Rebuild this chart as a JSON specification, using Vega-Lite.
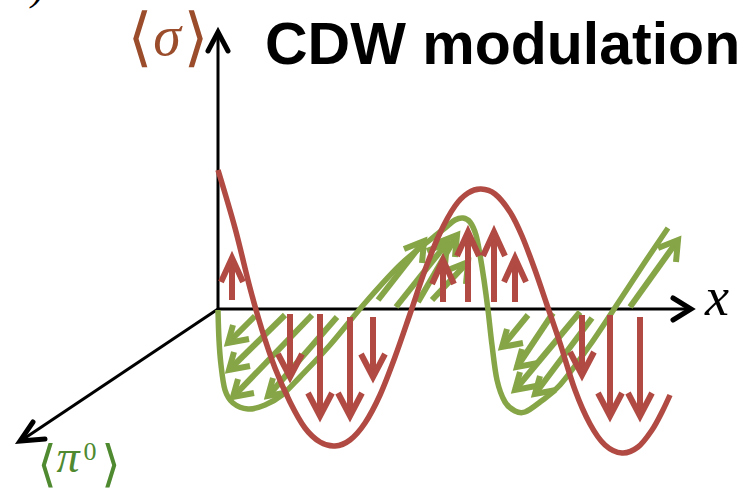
{
  "$schema": "https://vega.github.io/schema/vega-lite/v6.json",
  "width": 756,
  "height": 492,
  "autosize": {"type": "none"},
  "padding": 0,
  "background": "white",
  "config": {"view": {"stroke": null}},
  "datasets": {
    "paths": [
      {"g": "a1", "t": "axis", "o": 0, "x": 218, "y": 309},
      {"g": "a1", "t": "axis", "o": 1, "x": 218, "y": 34},
      {"g": "a2", "t": "axis", "o": 0, "x": 218, "y": 309},
      {"g": "a2", "t": "axis", "o": 1, "x": 689, "y": 309},
      {"g": "a3", "t": "axis", "o": 0, "x": 218, "y": 309},
      {"g": "a3", "t": "axis", "o": 1, "x": 22, "y": 440},
      {"g": "h1", "t": "axhead", "o": 0, "x": 208, "y": 51},
      {"g": "h1", "t": "axhead", "o": 1, "x": 218, "y": 32},
      {"g": "h1", "t": "axhead", "o": 2, "x": 228, "y": 51},
      {"g": "h2", "t": "axhead", "o": 0, "x": 673, "y": 298},
      {"g": "h2", "t": "axhead", "o": 1, "x": 691, "y": 309},
      {"g": "h2", "t": "axhead", "o": 2, "x": 673, "y": 320},
      {"g": "h3", "t": "axhead", "o": 0, "x": 33, "y": 422},
      {"g": "h3", "t": "axhead", "o": 1, "x": 20, "y": 441},
      {"g": "h3", "t": "axhead", "o": 2, "x": 45, "y": 439},

      {"g": "gc", "t": "gcurve", "o": 0, "x": 218, "y": 310},
      {"g": "gc", "t": "gcurve", "o": 1, "x": 219, "y": 340},
      {"g": "gc", "t": "gcurve", "o": 2, "x": 221, "y": 365},
      {"g": "gc", "t": "gcurve", "o": 3, "x": 225, "y": 390},
      {"g": "gc", "t": "gcurve", "o": 4, "x": 233, "y": 403},
      {"g": "gc", "t": "gcurve", "o": 5, "x": 248, "y": 409},
      {"g": "gc", "t": "gcurve", "o": 6, "x": 265, "y": 405},
      {"g": "gc", "t": "gcurve", "o": 7, "x": 282, "y": 395},
      {"g": "gc", "t": "gcurve", "o": 8, "x": 300, "y": 377},
      {"g": "gc", "t": "gcurve", "o": 9, "x": 330, "y": 345},
      {"g": "gc", "t": "gcurve", "o": 10, "x": 365, "y": 303},
      {"g": "gc", "t": "gcurve", "o": 11, "x": 400, "y": 265},
      {"g": "gc", "t": "gcurve", "o": 12, "x": 430, "y": 240},
      {"g": "gc", "t": "gcurve", "o": 13, "x": 445, "y": 228},
      {"g": "gc", "t": "gcurve", "o": 14, "x": 455, "y": 220},
      {"g": "gc", "t": "gcurve", "o": 15, "x": 463, "y": 218},
      {"g": "gc", "t": "gcurve", "o": 16, "x": 470, "y": 222},
      {"g": "gc", "t": "gcurve", "o": 17, "x": 476, "y": 235},
      {"g": "gc", "t": "gcurve", "o": 18, "x": 480, "y": 255},
      {"g": "gc", "t": "gcurve", "o": 19, "x": 484, "y": 280},
      {"g": "gc", "t": "gcurve", "o": 20, "x": 488, "y": 310},
      {"g": "gc", "t": "gcurve", "o": 21, "x": 492, "y": 345},
      {"g": "gc", "t": "gcurve", "o": 22, "x": 497, "y": 380},
      {"g": "gc", "t": "gcurve", "o": 23, "x": 505, "y": 402},
      {"g": "gc", "t": "gcurve", "o": 24, "x": 515, "y": 411},
      {"g": "gc", "t": "gcurve", "o": 25, "x": 525, "y": 412},
      {"g": "gc", "t": "gcurve", "o": 26, "x": 540, "y": 402},
      {"g": "gc", "t": "gcurve", "o": 27, "x": 560, "y": 385},
      {"g": "gc", "t": "gcurve", "o": 28, "x": 590, "y": 345},
      {"g": "gc", "t": "gcurve", "o": 29, "x": 620, "y": 300},
      {"g": "gc", "t": "gcurve", "o": 30, "x": 645, "y": 262},
      {"g": "gc", "t": "gcurve", "o": 31, "x": 668, "y": 228},

      {"g": "G1s", "t": "garrow", "o": 0, "x": 255, "y": 316},
      {"g": "G1s", "t": "garrow", "o": 1, "x": 228, "y": 343},
      {"g": "G1h", "t": "garrow", "o": 0, "x": 233, "y": 325},
      {"g": "G1h", "t": "garrow", "o": 1, "x": 228, "y": 343},
      {"g": "G1h", "t": "garrow", "o": 2, "x": 249, "y": 339},
      {"g": "G2s", "t": "garrow", "o": 0, "x": 285, "y": 315},
      {"g": "G2s", "t": "garrow", "o": 1, "x": 229, "y": 370},
      {"g": "G2h", "t": "garrow", "o": 0, "x": 234, "y": 352},
      {"g": "G2h", "t": "garrow", "o": 1, "x": 229, "y": 370},
      {"g": "G2h", "t": "garrow", "o": 2, "x": 250, "y": 366},
      {"g": "G3s", "t": "garrow", "o": 0, "x": 312, "y": 315},
      {"g": "G3s", "t": "garrow", "o": 1, "x": 233, "y": 397},
      {"g": "G3h", "t": "garrow", "o": 0, "x": 238, "y": 379},
      {"g": "G3h", "t": "garrow", "o": 1, "x": 233, "y": 397},
      {"g": "G3h", "t": "garrow", "o": 2, "x": 254, "y": 393},
      {"g": "G4s", "t": "garrow", "o": 0, "x": 337, "y": 317},
      {"g": "G4s", "t": "garrow", "o": 1, "x": 268, "y": 396},
      {"g": "G4h", "t": "garrow", "o": 0, "x": 273, "y": 378},
      {"g": "G4h", "t": "garrow", "o": 1, "x": 268, "y": 396},
      {"g": "G4h", "t": "garrow", "o": 2, "x": 289, "y": 392},
      {"g": "G5s", "t": "garrow", "o": 0, "x": 528, "y": 315},
      {"g": "G5s", "t": "garrow", "o": 1, "x": 502, "y": 347},
      {"g": "G5h", "t": "garrow", "o": 0, "x": 507, "y": 329},
      {"g": "G5h", "t": "garrow", "o": 1, "x": 502, "y": 347},
      {"g": "G5h", "t": "garrow", "o": 2, "x": 523, "y": 343},
      {"g": "G6s", "t": "garrow", "o": 0, "x": 553, "y": 313},
      {"g": "G6s", "t": "garrow", "o": 1, "x": 517, "y": 367},
      {"g": "G6h", "t": "garrow", "o": 0, "x": 522, "y": 349},
      {"g": "G6h", "t": "garrow", "o": 1, "x": 517, "y": 367},
      {"g": "G6h", "t": "garrow", "o": 2, "x": 538, "y": 363},
      {"g": "G7s", "t": "garrow", "o": 0, "x": 580, "y": 312},
      {"g": "G7s", "t": "garrow", "o": 1, "x": 515, "y": 390},
      {"g": "G7h", "t": "garrow", "o": 0, "x": 520, "y": 372},
      {"g": "G7h", "t": "garrow", "o": 1, "x": 515, "y": 390},
      {"g": "G7h", "t": "garrow", "o": 2, "x": 536, "y": 386},
      {"g": "G8s", "t": "garrow", "o": 0, "x": 592, "y": 318},
      {"g": "G8s", "t": "garrow", "o": 1, "x": 535, "y": 394},
      {"g": "G8h", "t": "garrow", "o": 0, "x": 540, "y": 376},
      {"g": "G8h", "t": "garrow", "o": 1, "x": 535, "y": 394},
      {"g": "G8h", "t": "garrow", "o": 2, "x": 556, "y": 390},
      {"g": "U1s", "t": "garrow", "o": 0, "x": 378, "y": 300},
      {"g": "U1s", "t": "garrow", "o": 1, "x": 424, "y": 241},
      {"g": "U1h", "t": "garrow", "o": 0, "x": 404, "y": 249},
      {"g": "U1h", "t": "garrow", "o": 1, "x": 424, "y": 241},
      {"g": "U1h", "t": "garrow", "o": 2, "x": 422, "y": 263},
      {"g": "U2s", "t": "garrow", "o": 0, "x": 396, "y": 307},
      {"g": "U2s", "t": "garrow", "o": 1, "x": 447, "y": 243},
      {"g": "U2h", "t": "garrow", "o": 0, "x": 427, "y": 251},
      {"g": "U2h", "t": "garrow", "o": 1, "x": 447, "y": 243},
      {"g": "U2h", "t": "garrow", "o": 2, "x": 445, "y": 265},
      {"g": "U3s", "t": "garrow", "o": 0, "x": 418, "y": 302},
      {"g": "U3s", "t": "garrow", "o": 1, "x": 457, "y": 235},
      {"g": "U3h", "t": "garrow", "o": 0, "x": 437, "y": 243},
      {"g": "U3h", "t": "garrow", "o": 1, "x": 457, "y": 235},
      {"g": "U3h", "t": "garrow", "o": 2, "x": 455, "y": 257},
      {"g": "U4s", "t": "garrow", "o": 0, "x": 432, "y": 300},
      {"g": "U4s", "t": "garrow", "o": 1, "x": 468, "y": 262},
      {"g": "U4h", "t": "garrow", "o": 0, "x": 448, "y": 270},
      {"g": "U4h", "t": "garrow", "o": 1, "x": 468, "y": 262},
      {"g": "U4h", "t": "garrow", "o": 2, "x": 466, "y": 284},
      {"g": "U5s", "t": "garrow", "o": 0, "x": 630, "y": 307},
      {"g": "U5s", "t": "garrow", "o": 1, "x": 678, "y": 240},
      {"g": "U5h", "t": "garrow", "o": 0, "x": 658, "y": 248},
      {"g": "U5h", "t": "garrow", "o": 1, "x": 678, "y": 240},
      {"g": "U5h", "t": "garrow", "o": 2, "x": 676, "y": 262},

      {"g": "rc", "t": "rcurve", "o": 0, "x": 218, "y": 170},
      {"g": "rc", "t": "rcurve", "o": 1, "x": 235, "y": 228},
      {"g": "rc", "t": "rcurve", "o": 2, "x": 250, "y": 288},
      {"g": "rc", "t": "rcurve", "o": 3, "x": 262, "y": 330},
      {"g": "rc", "t": "rcurve", "o": 4, "x": 275, "y": 368},
      {"g": "rc", "t": "rcurve", "o": 5, "x": 290, "y": 402},
      {"g": "rc", "t": "rcurve", "o": 6, "x": 305, "y": 428},
      {"g": "rc", "t": "rcurve", "o": 7, "x": 320, "y": 442},
      {"g": "rc", "t": "rcurve", "o": 8, "x": 335, "y": 446},
      {"g": "rc", "t": "rcurve", "o": 9, "x": 350, "y": 440},
      {"g": "rc", "t": "rcurve", "o": 10, "x": 365, "y": 423},
      {"g": "rc", "t": "rcurve", "o": 11, "x": 380, "y": 395},
      {"g": "rc", "t": "rcurve", "o": 12, "x": 395, "y": 357},
      {"g": "rc", "t": "rcurve", "o": 13, "x": 410, "y": 314},
      {"g": "rc", "t": "rcurve", "o": 14, "x": 425, "y": 270},
      {"g": "rc", "t": "rcurve", "o": 15, "x": 440, "y": 233},
      {"g": "rc", "t": "rcurve", "o": 16, "x": 455, "y": 206},
      {"g": "rc", "t": "rcurve", "o": 17, "x": 468, "y": 193},
      {"g": "rc", "t": "rcurve", "o": 18, "x": 481, "y": 189},
      {"g": "rc", "t": "rcurve", "o": 19, "x": 495, "y": 194},
      {"g": "rc", "t": "rcurve", "o": 20, "x": 510, "y": 212},
      {"g": "rc", "t": "rcurve", "o": 21, "x": 522, "y": 236},
      {"g": "rc", "t": "rcurve", "o": 22, "x": 535, "y": 270},
      {"g": "rc", "t": "rcurve", "o": 23, "x": 547, "y": 305},
      {"g": "rc", "t": "rcurve", "o": 24, "x": 560, "y": 343},
      {"g": "rc", "t": "rcurve", "o": 25, "x": 575, "y": 390},
      {"g": "rc", "t": "rcurve", "o": 26, "x": 590, "y": 424},
      {"g": "rc", "t": "rcurve", "o": 27, "x": 605, "y": 445},
      {"g": "rc", "t": "rcurve", "o": 28, "x": 622, "y": 453},
      {"g": "rc", "t": "rcurve", "o": 29, "x": 638, "y": 447},
      {"g": "rc", "t": "rcurve", "o": 30, "x": 652, "y": 430},
      {"g": "rc", "t": "rcurve", "o": 31, "x": 662, "y": 412},
      {"g": "rc", "t": "rcurve", "o": 32, "x": 670, "y": 395},

      {"g": "R1s", "t": "rarrow", "o": 0, "x": 232, "y": 300},
      {"g": "R1s", "t": "rarrow", "o": 1, "x": 232, "y": 259},
      {"g": "R1h", "t": "rarrow", "o": 0, "x": 221, "y": 282},
      {"g": "R1h", "t": "rarrow", "o": 1, "x": 232, "y": 258},
      {"g": "R1h", "t": "rarrow", "o": 2, "x": 243, "y": 282},
      {"g": "R2s", "t": "rarrow", "o": 0, "x": 443, "y": 302},
      {"g": "R2s", "t": "rarrow", "o": 1, "x": 443, "y": 261},
      {"g": "R2h", "t": "rarrow", "o": 0, "x": 432, "y": 284},
      {"g": "R2h", "t": "rarrow", "o": 1, "x": 443, "y": 260},
      {"g": "R2h", "t": "rarrow", "o": 2, "x": 454, "y": 284},
      {"g": "R3s", "t": "rarrow", "o": 0, "x": 468, "y": 302},
      {"g": "R3s", "t": "rarrow", "o": 1, "x": 468, "y": 233},
      {"g": "R3h", "t": "rarrow", "o": 0, "x": 457, "y": 256},
      {"g": "R3h", "t": "rarrow", "o": 1, "x": 468, "y": 232},
      {"g": "R3h", "t": "rarrow", "o": 2, "x": 479, "y": 256},
      {"g": "R4s", "t": "rarrow", "o": 0, "x": 494, "y": 302},
      {"g": "R4s", "t": "rarrow", "o": 1, "x": 494, "y": 233},
      {"g": "R4h", "t": "rarrow", "o": 0, "x": 483, "y": 256},
      {"g": "R4h", "t": "rarrow", "o": 1, "x": 494, "y": 232},
      {"g": "R4h", "t": "rarrow", "o": 2, "x": 505, "y": 256},
      {"g": "R5s", "t": "rarrow", "o": 0, "x": 515, "y": 302},
      {"g": "R5s", "t": "rarrow", "o": 1, "x": 515, "y": 259},
      {"g": "R5h", "t": "rarrow", "o": 0, "x": 504, "y": 282},
      {"g": "R5h", "t": "rarrow", "o": 1, "x": 515, "y": 258},
      {"g": "R5h", "t": "rarrow", "o": 2, "x": 526, "y": 282},
      {"g": "D1s", "t": "rarrow", "o": 0, "x": 290, "y": 314},
      {"g": "D1s", "t": "rarrow", "o": 1, "x": 290, "y": 376},
      {"g": "D1h", "t": "rarrow", "o": 0, "x": 278, "y": 354},
      {"g": "D1h", "t": "rarrow", "o": 1, "x": 290, "y": 377},
      {"g": "D1h", "t": "rarrow", "o": 2, "x": 302, "y": 354},
      {"g": "D2s", "t": "rarrow", "o": 0, "x": 320, "y": 314},
      {"g": "D2s", "t": "rarrow", "o": 1, "x": 320, "y": 415},
      {"g": "D2h", "t": "rarrow", "o": 0, "x": 308, "y": 393},
      {"g": "D2h", "t": "rarrow", "o": 1, "x": 320, "y": 416},
      {"g": "D2h", "t": "rarrow", "o": 2, "x": 332, "y": 393},
      {"g": "D3s", "t": "rarrow", "o": 0, "x": 350, "y": 317},
      {"g": "D3s", "t": "rarrow", "o": 1, "x": 350, "y": 415},
      {"g": "D3h", "t": "rarrow", "o": 0, "x": 338, "y": 393},
      {"g": "D3h", "t": "rarrow", "o": 1, "x": 350, "y": 416},
      {"g": "D3h", "t": "rarrow", "o": 2, "x": 362, "y": 393},
      {"g": "D4s", "t": "rarrow", "o": 0, "x": 373, "y": 317},
      {"g": "D4s", "t": "rarrow", "o": 1, "x": 373, "y": 376},
      {"g": "D4h", "t": "rarrow", "o": 0, "x": 361, "y": 354},
      {"g": "D4h", "t": "rarrow", "o": 1, "x": 373, "y": 377},
      {"g": "D4h", "t": "rarrow", "o": 2, "x": 385, "y": 354},
      {"g": "D5s", "t": "rarrow", "o": 0, "x": 582, "y": 315},
      {"g": "D5s", "t": "rarrow", "o": 1, "x": 582, "y": 374},
      {"g": "D5h", "t": "rarrow", "o": 0, "x": 570, "y": 352},
      {"g": "D5h", "t": "rarrow", "o": 1, "x": 582, "y": 375},
      {"g": "D5h", "t": "rarrow", "o": 2, "x": 594, "y": 352},
      {"g": "D6s", "t": "rarrow", "o": 0, "x": 610, "y": 315},
      {"g": "D6s", "t": "rarrow", "o": 1, "x": 610, "y": 415},
      {"g": "D6h", "t": "rarrow", "o": 0, "x": 598, "y": 393},
      {"g": "D6h", "t": "rarrow", "o": 1, "x": 610, "y": 416},
      {"g": "D6h", "t": "rarrow", "o": 2, "x": 622, "y": 393},
      {"g": "D7s", "t": "rarrow", "o": 0, "x": 640, "y": 317},
      {"g": "D7s", "t": "rarrow", "o": 1, "x": 640, "y": 415},
      {"g": "D7h", "t": "rarrow", "o": 0, "x": 628, "y": 393},
      {"g": "D7h", "t": "rarrow", "o": 1, "x": 640, "y": 416},
      {"g": "D7h", "t": "rarrow", "o": 2, "x": 652, "y": 393}
    ]
  },
  "encoding": {
    "x": {"field": "x", "type": "quantitative", "scale": {"domain": [0, 756], "nice": false, "zero": false}, "axis": null},
    "y": {"field": "y", "type": "quantitative", "scale": {"domain": [0, 492], "reverse": true, "nice": false, "zero": false}, "axis": null}
  },
  "layer": [
    {
      "data": {"name": "paths"},
      "transform": [{"filter": "datum.t === 'axis'"}],
      "mark": {"type": "line", "color": "#000000", "strokeWidth": 3, "strokeCap": "butt"},
      "encoding": {"detail": {"field": "g"}, "order": {"field": "o", "type": "quantitative"}}
    },
    {
      "data": {"name": "paths"},
      "transform": [{"filter": "datum.t === 'axhead'"}],
      "mark": {"type": "line", "color": "#000000", "strokeWidth": 5, "strokeCap": "round", "strokeJoin": "miter"},
      "encoding": {"detail": {"field": "g"}, "order": {"field": "o", "type": "quantitative"}}
    },
    {
      "data": {"name": "paths"},
      "transform": [{"filter": "datum.t === 'gcurve'"}],
      "mark": {"type": "line", "color": "#86A546", "strokeWidth": 5.5, "interpolate": "cardinal", "strokeCap": "butt"},
      "encoding": {"detail": {"field": "g"}, "order": {"field": "o", "type": "quantitative"}}
    },
    {
      "data": {"name": "paths"},
      "transform": [{"filter": "datum.t === 'garrow'"}],
      "mark": {"type": "line", "color": "#86A546", "strokeWidth": 6, "strokeCap": "butt", "strokeJoin": "miter"},
      "encoding": {"detail": {"field": "g"}, "order": {"field": "o", "type": "quantitative"}}
    },
    {
      "data": {"name": "paths"},
      "transform": [{"filter": "datum.t === 'rcurve'"}],
      "mark": {"type": "line", "color": "#B04A42", "strokeWidth": 5.5, "interpolate": "cardinal", "strokeCap": "butt"},
      "encoding": {"detail": {"field": "g"}, "order": {"field": "o", "type": "quantitative"}}
    },
    {
      "data": {"name": "paths"},
      "transform": [{"filter": "datum.t === 'rarrow'"}],
      "mark": {"type": "line", "color": "#B04A42", "strokeWidth": 6, "strokeCap": "butt", "strokeJoin": "miter"},
      "encoding": {"detail": {"field": "g"}, "order": {"field": "o", "type": "quantitative"}}
    },
    {
      "data": {"values": [{"x": 265, "y": 64, "label": "CDW modulation"}]},
      "mark": {"type": "text", "align": "left", "baseline": "alphabetic", "font": "Liberation Sans", "fontWeight": "bold", "fontSize": 59, "color": "#000000"},
      "encoding": {"text": {"field": "label"}}
    },
    {
      "data": {"values": [{"x": 140, "y": 40, "label": "⟨"}, {"x": 196, "y": 40, "label": "⟩"}]},
      "mark": {"type": "text", "align": "center", "baseline": "middle", "font": "DejaVu Sans", "fontSize": 64, "color": "#9A4C2B"},
      "encoding": {"text": {"field": "label"}}
    },
    {
      "data": {"values": [{"x": 167, "y": 55, "label": "σ"}]},
      "mark": {"type": "text", "align": "center", "baseline": "alphabetic", "font": "Liberation Serif", "fontStyle": "italic", "fontSize": 56, "color": "#9A4C2B"},
      "encoding": {"text": {"field": "label"}}
    },
    {
      "data": {"values": [{"x": 47, "y": 466, "label": "⟨"}, {"x": 111, "y": 466, "label": "⟩"}]},
      "mark": {"type": "text", "align": "center", "baseline": "middle", "font": "DejaVu Sans", "fontSize": 50, "color": "#4F8A30"},
      "encoding": {"text": {"field": "label"}}
    },
    {
      "data": {"values": [{"x": 68, "y": 472, "label": "π"}]},
      "mark": {"type": "text", "align": "center", "baseline": "alphabetic", "font": "Liberation Serif", "fontStyle": "italic", "fontSize": 46, "color": "#4F8A30"},
      "encoding": {"text": {"field": "label"}}
    },
    {
      "data": {"values": [{"x": 90, "y": 460, "label": "0"}]},
      "mark": {"type": "text", "align": "center", "baseline": "alphabetic", "font": "Liberation Serif", "fontSize": 26, "color": "#4F8A30"},
      "encoding": {"text": {"field": "label"}}
    },
    {
      "data": {"values": [{"x": 717, "y": 315, "label": "x"}]},
      "mark": {"type": "text", "align": "center", "baseline": "alphabetic", "font": "Liberation Serif", "fontStyle": "italic", "fontSize": 54, "color": "#000000"},
      "encoding": {"text": {"field": "label"}}
    },
    {
      "data": {"values": [{"x": 38, "y": 0, "label": ")"}]},
      "mark": {"type": "text", "align": "center", "baseline": "alphabetic", "font": "Liberation Serif", "fontStyle": "italic", "fontSize": 40, "color": "#000000"},
      "encoding": {"text": {"field": "label"}}
    }
  ]
}
